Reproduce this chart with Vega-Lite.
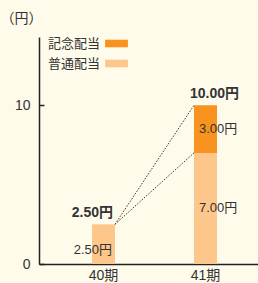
{
  "$schema": "https://vega.github.io/schema/vega-lite/v6.json",
  "width": 219,
  "height": 227,
  "autosize": {"type": "none"},
  "padding": {"left": 39, "top": 37, "right": 0, "bottom": 19},
  "background": "#fefbeb",
  "config": {
    "view": {"stroke": null},
    "font": "Liberation Sans, Noto Sans CJK JP",
    "text": {"font": "Liberation Sans, Noto Sans CJK JP", "color": "#333333"}
  },
  "datasets": {
    "bars": [
      {"period": "40期", "type": "普通配当", "value": 2.5, "label": "2.50円"},
      {"period": "41期", "type": "普通配当", "value": 7.0, "label": "7.00円"},
      {"period": "41期", "type": "記念配当", "value": 3.0, "label": "3.00円"}
    ],
    "totals": [
      {"period": "40期", "total": 2.5, "label": "2.50円"},
      {"period": "41期", "total": 10.0, "label": "10.00円"}
    ],
    "links": [
      {"from": "40期", "to": "41期", "y1": 2.5, "y2": 10.0},
      {"from": "40期", "to": "41期", "y1": 2.5, "y2": 7.0}
    ]
  },
  "layer": [
    {
      "data": {"name": "bars"},
      "transform": [
        {"stack": "value", "groupby": ["period"], "sort": [{"field": "type", "order": "ascending"}], "as": ["v0", "v1"]}
      ],
      "mark": {"type": "bar"},
      "encoding": {
        "x": {
          "field": "period", "type": "nominal",
          "scale": {"paddingInner": 0.7745, "paddingOuter": 0.4608, "align": 0.5638},
          "axis": {"title": null, "labelAngle": 0, "ticks": false, "labelPadding": 4, "labelFontSize": 14, "labelColor": "#333333", "labelFont": "Liberation Sans, Noto Sans CJK JP", "domainColor": "#222222", "domainWidth": 1.5}
        },
        "y": {
          "field": "v0", "type": "quantitative",
          "scale": {"domain": [0, 14.3], "nice": false, "zero": true},
          "axis": {"title": "（円）", "values": [0, 10], "grid": false, "titleAngle": 0, "titleAlign": "left", "titleBaseline": "middle", "titleX": -39, "titleY": -19, "titleFont": "Noto Sans CJK JP", "titleFontSize": 14, "titleFontWeight": "normal", "titleColor": "#333333", "labelFontSize": 14, "labelColor": "#333333", "labelFont": "Liberation Sans", "tickSize": -5, "tickWidth": 1.5, "tickColor": "#222222", "labelPadding": 14, "domainColor": "#222222", "domainWidth": 1.5}
        },
        "y2": {"field": "v1"},
        "color": {
          "field": "type", "type": "nominal",
          "scale": {"domain": ["記念配当", "普通配当"], "range": ["#f7931e", "#fdc68a"]},
          "legend": {"title": null, "orient": "none", "legendX": 68, "legendY": -3, "symbolType": "M-1.2,-0.4L1.2,-0.4L1.2,0.4L-1.2,0.4Z", "symbolSize": 361, "symbolStrokeWidth": 0, "symbolOpacity": 1, "labelAlign": "right", "labelOffset": -26, "labelFont": "Noto Sans CJK JP", "labelFontSize": 13, "labelColor": "#333333", "rowPadding": 3, "padding": 0}
        }
      }
    },
    {
      "data": {"name": "links"},
      "mark": {"type": "rule", "strokeDash": [1.5, 1.5], "color": "#333333", "strokeWidth": 1},
      "encoding": {
        "x": {"field": "from", "type": "nominal", "bandPosition": 1},
        "x2": {"field": "to", "bandPosition": 0},
        "y": {"field": "y1", "type": "quantitative"},
        "y2": {"field": "y2"}
      }
    },
    {
      "data": {"name": "bars"},
      "transform": [
        {"stack": "value", "groupby": ["period"], "sort": [{"field": "type", "order": "ascending"}], "as": ["v0", "v1"]},
        {"calculate": "(datum.v0 + datum.v1) / 2", "as": "mid"},
        {"filter": "datum.period === '40期'"}
      ],
      "mark": {"type": "text", "align": "right", "baseline": "middle", "dx": 8.5, "dy": 6, "fontSize": 13},
      "encoding": {
        "x": {"field": "period", "type": "nominal"},
        "y": {"field": "mid", "type": "quantitative"},
        "text": {"field": "label"}
      }
    },
    {
      "data": {"name": "bars"},
      "transform": [
        {"stack": "value", "groupby": ["period"], "sort": [{"field": "type", "order": "ascending"}], "as": ["v0", "v1"]},
        {"calculate": "(datum.v0 + datum.v1) / 2", "as": "mid"},
        {"filter": "datum.period === '41期'"}
      ],
      "mark": {"type": "text", "align": "left", "baseline": "middle", "dx": -6.5, "fontSize": 13},
      "encoding": {
        "x": {"field": "period", "type": "nominal"},
        "y": {"field": "mid", "type": "quantitative"},
        "text": {"field": "label"}
      }
    },
    {
      "data": {"name": "totals"},
      "transform": [{"filter": "datum.period === '40期'"}],
      "mark": {"type": "text", "align": "right", "baseline": "alphabetic", "dx": 9.5, "dy": -7, "fontSize": 14, "fontWeight": "bold"},
      "encoding": {
        "x": {"field": "period", "type": "nominal"},
        "y": {"field": "total", "type": "quantitative"},
        "text": {"field": "label"}
      }
    },
    {
      "data": {"name": "totals"},
      "transform": [{"filter": "datum.period === '41期'"}],
      "mark": {"type": "text", "align": "left", "baseline": "alphabetic", "dx": -15.5, "dy": -7, "fontSize": 14, "fontWeight": "bold"},
      "encoding": {
        "x": {"field": "period", "type": "nominal"},
        "y": {"field": "total", "type": "quantitative"},
        "text": {"field": "label"}
      }
    }
  ]
}
